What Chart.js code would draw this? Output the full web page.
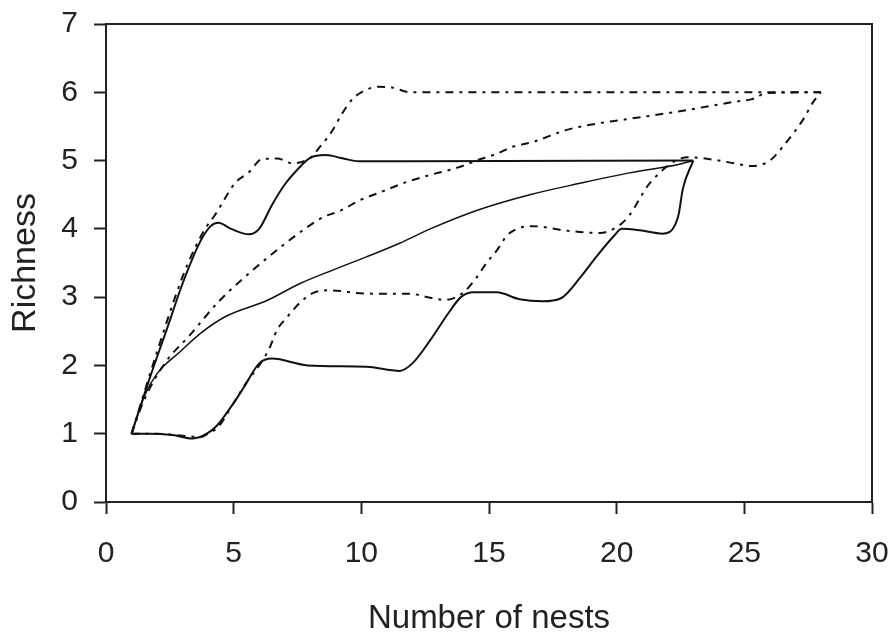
<!DOCTYPE html>
<html>
<head>
<meta charset="utf-8">
<script src="https://cdn.jsdelivr.net/npm/chart.js@4/dist/chart.umd.min.js"></script>
<style>
  body { margin: 0; background: #fff; }
  #canvas { display: block; }
</style>
</head>
<body>
<canvas id="canvas" width="894" height="636"></canvas>
<script>
// richness curves, [nests, richness]
const solidUpper = [[1,1],[1.7,1.8],[2.4,2.55],[3,3.2],[3.7,3.82],[4.1,4.04],[4.4,4.09],[4.9,4.0],[5.6,3.92],[6,4.0],[6.5,4.35],[7,4.65],[7.5,4.87],[8,5.04],[8.6,5.08],[9.3,5.03],[9.9,4.99],[12,4.99],[23,5]];
const solidMean = [[1,1],[1.5,1.55],[2,1.88],[2.9,2.2],[3.7,2.47],[4.7,2.72],[6.3,2.95],[7.6,3.2],[8.9,3.4],[10.2,3.59],[11.5,3.79],[12.7,4.0],[14.6,4.28],[16.6,4.5],[18.6,4.67],[20.5,4.82],[22.5,4.95],[23,5]];
const solidLower = [[1,1],[1.7,1.0],[2.6,0.98],[3.4,0.93],[3.95,1.0],[4.35,1.12],[5,1.45],[5.4,1.68],[6,2.03],[6.5,2.1],[7.9,2.0],[10.2,1.98],[11.5,1.92],[12,2.03],[12.7,2.37],[13.4,2.76],[13.9,3.0],[14.4,3.07],[15.3,3.07],[16.2,2.97],[17.1,2.94],[17.8,2.98],[18.6,3.3],[19.2,3.59],[19.9,3.9],[20.2,4.0],[20.9,3.98],[21.8,3.93],[22.4,4.17],[22.6,4.6],[23,5]];
const dotUpper = [[1,1],[2,2.2],[3,3.3],[3.8,3.95],[4.3,4.22],[4.7,4.47],[5.05,4.67],[5.6,4.83],[6.1,5.02],[6.7,5.03],[7.3,4.96],[8,5.04],[8.4,5.21],[8.85,5.43],[9.25,5.69],[9.65,5.9],[10,6.0],[10.65,6.08],[11.2,6.07],[11.9,6.0],[28,6]];
const dotMean = [[1,1],[1.5,1.5],[2.3,2.03],[3.3,2.45],[4.4,2.93],[5.45,3.3],[6.6,3.66],[7.6,3.95],[8.5,4.17],[9.2,4.27],[9.95,4.42],[10.7,4.53],[11.8,4.69],[12.7,4.79],[13.8,4.9],[14.65,5.02],[15.3,5.1],[15.9,5.2],[16.7,5.27],[18.05,5.45],[19.35,5.55],[20.1,5.59],[22.1,5.7],[22.75,5.74],[24.6,5.86],[25.3,5.9],[25.9,5.99],[28,6]];
const dotLower = [[1,1],[2,1.0],[3,0.97],[3.7,0.95],[4,1.0],[4.4,1.1],[5,1.45],[5.5,1.75],[6,2.0],[6.4,2.25],[6.7,2.52],[7.1,2.71],[7.6,2.92],[8.1,3.06],[8.7,3.1],[9.2,3.09],[9.8,3.06],[11.2,3.05],[11.9,3.05],[12.7,2.99],[13.3,2.96],[14,3.07],[14.5,3.28],[14.9,3.5],[15.3,3.68],[15.7,3.9],[16.1,4.0],[16.7,4.04],[17.9,3.98],[18.7,3.95],[19.35,3.94],[20.1,4.05],[20.5,4.2],[21.3,4.67],[22.8,5.05],[24,5.0],[24.6,4.96],[25.3,4.92],[26,5.0],[26.5,5.2],[26.9,5.39],[27.3,5.6],[27.7,5.86],[28,6]];

const xTicks = [0, 5, 10, 15, 20, 25, 30];
const yTicks = [0, 1, 2, 3, 4, 5, 6, 7];

const ink = "#111";
const dash = [8, 6, 3, 6];

function line(points, width, dashed) {
  return {
    data: points.map((p) => ({ x: p[0], y: p[1] })),
    showLine: true,
    borderColor: ink,
    borderWidth: width,
    borderDash: dashed ? dash : [],
    pointRadius: 0,
    cubicInterpolationMode: "monotone",
    fill: false,
  };
}

// top and right edges of the box
const frame = {
  id: "frame",
  afterDraw(chart) {
    const { ctx, chartArea: a } = chart;
    ctx.save();
    ctx.strokeStyle = "#222";
    ctx.lineWidth = 2;
    ctx.beginPath();
    ctx.moveTo(a.left, a.top);
    ctx.lineTo(a.right, a.top);
    ctx.lineTo(a.right, a.bottom);
    ctx.stroke();
    ctx.restore();
  },
};

const font = "'Liberation Sans', Arial, sans-serif";

new Chart(document.getElementById("canvas"), {
  type: "scatter",
  data: {
    datasets: [
      line(dotUpper, 2, true),
      line(dotMean, 2, true),
      line(dotLower, 2, true),
      line(solidUpper, 2, false),
      line(solidMean, 1.5, false),
      line(solidLower, 2, false),
    ],
  },
  options: {
    responsive: false,
    animation: false,
    layout: { padding: { top: 24, right: 22, left: 0, bottom: 0 } },
    plugins: { legend: { display: false }, tooltip: { enabled: false } },
    scales: {
      x: {
        type: "linear",
        min: 0,
        max: 30,
        afterBuildTicks: (s) => { s.ticks = xTicks.map((v) => ({ value: v })); },
        afterFit: (s) => { s.height = 134; s.paddingLeft = 0; s.paddingRight = 0; },
        grid: { drawOnChartArea: false, tickLength: 12, tickColor: "#222", tickWidth: 2 },
        border: { color: "#222", width: 2 },
        ticks: { color: "#222", padding: 22, font: { family: font, size: 30 }, maxRotation: 0 },
        title: { display: true, text: "Number of nests", color: "#222", padding: { top: 0, bottom: -3 }, font: { family: font, size: 33 } },
      },
      y: {
        type: "linear",
        min: 0,
        max: 7,
        afterBuildTicks: (s) => { s.ticks = yTicks.map((v) => ({ value: v })); },
        afterFit: (s) => { s.width = 106; s.paddingTop = 0; s.paddingBottom = 0; },
        grid: { drawOnChartArea: false, tickLength: 12, tickColor: "#222", tickWidth: 2 },
        border: { color: "#222", width: 2 },
        ticks: { color: "#222", padding: 16, font: { family: font, size: 30 } },
        title: { display: true, text: "Richness", color: "#222", padding: { top: 5, bottom: 0 }, font: { family: font, size: 34 } },
      },
    },
  },
  plugins: [frame],
});
</script>
</body>
</html>
